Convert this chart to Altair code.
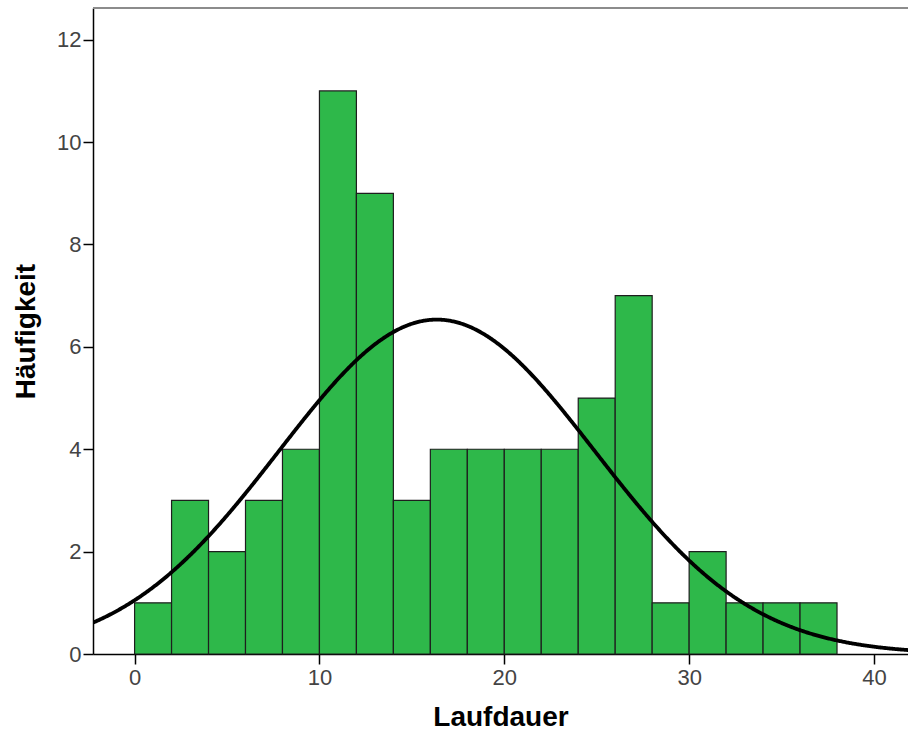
import altair as alt
import pandas as pd

# Histogram of run durations (bin width 2)
bin_start = [0, 2, 4, 6, 8, 10, 12, 14, 16, 18, 20, 22, 24, 26, 28, 30, 32, 34, 36]
counts = [1, 3, 2, 3, 4, 11, 9, 3, 4, 4, 4, 4, 5, 7, 1, 2, 1, 1, 1]
bin_width = 2

# Fitted normal curve parameters
mean_val = 16.35
sd_val = 8.55
n_total = sum(counts)

x_ticks = [0, 10, 20, 30, 40]
y_ticks = [0, 2, 4, 6, 8, 10, 12]
x_domain = [-2.25, 41.84]
y_domain = [0, 12.62]

W, H = 815, 646

bars_df = pd.DataFrame({
    "start": bin_start,
    "end": [b + bin_width for b in bin_start],
    "count": counts,
    "base": [0] * len(counts),
})

x_scale = alt.Scale(domain=x_domain, nice=False, zero=False)
y_scale = alt.Scale(domain=y_domain, nice=False)

label_font = "Liberation Sans"

bars = alt.Chart(bars_df).mark_bar(
    color="#2eb84a", stroke="#1e1e1e", strokeWidth=1.2, opacity=1
).encode(
    x=alt.X("start:Q", scale=x_scale,
            axis=alt.Axis(values=x_ticks, title="Laufdauer", grid=False,
                          tickSize=10, tickColor="#000", tickWidth=1.5,
                          domainColor="#000", domainWidth=1.5,
                          labelFont=label_font, labelFontSize=22, labelColor="#444444",
                          labelPadding=3,
                          titleFont=label_font, titleFontSize=28, titleFontWeight="bold",
                          titleColor="#000", titlePadding=15)),
    x2="end:Q",
    y=alt.Y("count:Q", scale=y_scale,
            axis=alt.Axis(values=y_ticks, title="Häufigkeit", grid=False,
                          tickSize=10, tickColor="#000", tickWidth=1.5,
                          domainColor="#000", domainWidth=1.5,
                          labelFont=label_font, labelFontSize=22, labelColor="#444444",
                          labelPadding=2,
                          titleFont=label_font, titleFontSize=28, titleFontWeight="bold",
                          titleColor="#000", titlePadding=16)),
    y2="base:Q",
)

peak = n_total * bin_width / (sd_val * 2.5066282746)

curve = alt.Chart(alt.sequence(start=x_domain[0], stop=x_domain[1] + 0.05, step=0.05, as_="x")).transform_calculate(
    y=f"{peak} * exp(-0.5 * pow((datum.x - {mean_val}) / {sd_val}, 2))"
).mark_line(color="#000", strokeWidth=3.8, clip=True).encode(
    x=alt.X("x:Q", scale=x_scale),
    y=alt.Y("y:Q", scale=y_scale),
)

top_border = alt.Chart(pd.DataFrame({"v": [0]})).mark_rule(
    color="#8c8c8c", strokeWidth=2
).encode(x=alt.value(0), x2=alt.value(W + 5), y=alt.value(0))

chart = alt.layer(bars, curve, top_border).properties(
    width=W, height=H,
    autosize=alt.AutoSizeParams(type="none"),
    padding={"left": 93, "top": 8, "right": 0, "bottom": 733 - 8 - H},
).configure_view(stroke=None).configure(background="#ffffff")

chart.save("out.html", embed_options={"renderer": "svg", "actions": False})
